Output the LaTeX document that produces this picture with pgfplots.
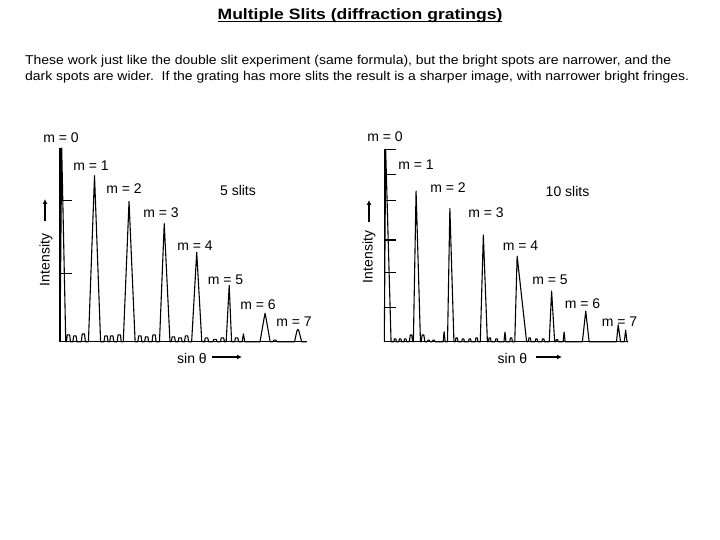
\documentclass[border=0pt]{standalone}
\usepackage{fontspec}
\setmainfont{Liberation Sans}
\usepackage{graphicx}
\usepackage{pgfplots}
\pgfplotsset{compat=1.18}
\usetikzlibrary{arrows.meta}

\newcommand\ul[1]{\setbox0\hbox{#1}\rlap{\rule[-2.4pt]{\wd0}{1.1pt}}\box0}

\pgfplotsset{
  slits/.style={
    anchor=south west, scale only axis,
    xmin=0, ymin=0, ymax=1,
    axis x line*=bottom, axis y line*=left,
    axis line style={line width=1.3pt, black},
    xtick=\empty, yticklabels={},
    tick align=inside, major tick length=12pt,
    tick style={line width=1.3pt, black},
    clip=false,
  },
  peaks/.style={black, line width=1.1pt, line join=round, no markers},
}

\begin{document}
\begin{tikzpicture}
\path[use as bounding box] (0pt,0pt) rectangle (720pt,-540pt);

% title and text
\node[anchor=base, inner sep=0pt] at (360pt,-19.5pt)
  {\scalebox{1.17}[1]{\fontsize{15}{18}\selectfont\bfseries\ul{Multiple Slits (diffraction gratings)}}};
\node[anchor=base west, inner sep=0pt] at (25pt,-65pt)
  {\scalebox{1.09}[1]{\fontsize{12.8}{15}\selectfont These work just like the double slit experiment (same formula), but the bright spots are narrower, and the}};
\node[anchor=base west, inner sep=0pt] at (25pt,-80.5pt)
  {\scalebox{1.09}[1]{\fontsize{12.8}{15}\selectfont dark spots are wider.\ \ If the grating has more slits the result is a sharper image, with narrower bright fringes.}};

% 5 slits
\begin{axis}[slits, at={(60pt,-341.7pt)}, width=246.7pt, height=193.7pt,
  xmax=7.29, ytick={0.353,0.728}]
\addplot[peaks] coordinates {
(0,0)(0.05,1.0)(0.17,0)
(0.19,0)(0.215,0.035)(0.285,0.035)(0.31,0)
(0.38,0)(0.405,0.03)(0.475,0.03)(0.50,0)
(0.63,0)(0.655,0.04)(0.725,0.04)(0.75,0)
(0.84,0)(1.02,0.857)(1.20,0)
(1.30,0)(1.325,0.03)(1.395,0.03)(1.42,0)
(1.47,0)(1.495,0.03)(1.565,0.03)(1.59,0)
(1.69,0)(1.715,0.035)(1.785,0.035)(1.81,0)
(1.87,0)(2.04,0.724)(2.22,0)
(2.30,0)(2.325,0.03)(2.395,0.03)(2.42,0)
(2.50,0)(2.525,0.025)(2.595,0.025)(2.62,0)
(2.72,0)(2.745,0.035)(2.815,0.035)(2.84,0)
(2.94,0)(3.08,0.609)(3.25,0)
(3.29,0)(3.315,0.025)(3.385,0.025)(3.41,0)
(3.49,0)(3.515,0.02)(3.585,0.02)(3.61,0)
(3.68,0)(3.705,0.03)(3.775,0.03)(3.80,0)
(3.89,0)(4.04,0.462)(4.19,0)
(4.27,0)(4.295,0.02)(4.365,0.02)(4.39,0)
(4.52,0)(4.545,0.012)(4.615,0.012)(4.64,0)
(4.74,0)(4.765,0.02)(4.835,0.02)(4.86,0)
(4.91,0)(5.0,0.29)(5.07,0)
(5.16,0)(5.185,0.02)(5.255,0.02)(5.28,0)
(5.38,0)(5.42,0.04)(5.46,0)
(5.91,0)(6.03,0.12)(6.06,0.147)(6.09,0.12)(6.21,0)
(6.29,0)(6.32,0.008)(6.38,0.008)(6.41,0)
(6.93,0)(7.0,0.055)(7.03,0.064)(7.06,0.055)(7.14,0)
(7.29,0)
};
\end{axis}

% 10 slits
\begin{axis}[slits, at={(384.3pt,-341.7pt)}, width=243.7pt, height=192.4pt,
  xmax=7.21, ytick={0.179,0.359,0.529,0.733,0.870,1.0}]
\addplot[peaks] coordinates {
(0,0)(0.04,1.0)(0.2,0)
(0.28,0)(0.30,0.015)(0.34,0.015)(0.36,0)
(0.43,0)(0.45,0.015)(0.49,0.015)(0.51,0)
(0.58,0)(0.60,0.015)(0.64,0.015)(0.66,0)
(0.74,0)(0.77,0.035)(0.81,0.035)(0.84,0)
(0.86,0)(0.94,0.783)(1.07,0)
(1.09,0)(1.12,0.035)(1.17,0.035)(1.20,0)
(1.27,0)(1.29,0.008)(1.33,0.008)(1.35,0)
(1.42,0)(1.44,0.008)(1.48,0.008)(1.50,0)
(1.74,0)(1.77,0.052)(1.80,0)
(1.87,0)(1.94,0.693)(2.06,0)
(2.10,0)(2.12,0.02)(2.16,0.02)(2.18,0)
(2.29,0)(2.31,0.015)(2.35,0.015)(2.37,0)
(2.49,0)(2.51,0.015)(2.55,0.015)(2.57,0)
(2.69,0)(2.71,0.02)(2.75,0.02)(2.77,0)
(2.84,0)(2.93,0.555)(3.05,0)
(3.08,0)(3.10,0.02)(3.14,0.02)(3.16,0)
(3.28,0)(3.30,0.015)(3.34,0.015)(3.36,0)
(3.54,0)(3.57,0.05)(3.60,0)
(3.71,0)(3.73,0.02)(3.77,0.02)(3.79,0)
(3.86,0)(3.93,0.445)(4.21,0)
(4.26,0)(4.28,0.02)(4.32,0.02)(4.34,0)
(4.46,0)(4.48,0.015)(4.52,0.015)(4.54,0)
(4.66,0)(4.68,0.015)(4.72,0.015)(4.74,0)
(4.88,0)(4.95,0.263)(5.04,0)
(5.07,0)(5.09,0.01)(5.13,0.01)(5.15,0)
(5.29,0)(5.32,0.05)(5.35,0)
(5.86,0)(5.96,0.159)(6.06,0)
(6.87,0)(6.92,0.087)(6.99,0)
(7.10,0)(7.14,0.06)(7.18,0)
(7.21,0)
};
\end{axis}

% annotations, 5 slits
\begin{scope}[every node/.style={inner sep=0pt, font=\fontsize{14}{16}\selectfont}]
\node at (61pt,-138pt) {m = 0};
\node at (91pt,-166pt) {m = 1};
\node at (124pt,-188.5pt) {m = 2};
\node at (161pt,-213pt) {m = 3};
\node at (195pt,-246pt) {m = 4};
\node at (225.5pt,-280pt) {m = 5};
\node at (258pt,-305pt) {m = 6};
\node at (294pt,-321.5pt) {m = 7};
\node at (238pt,-190pt) {5 slits};
\node[rotate=90] at (46pt,-260pt) {Intensity};
\node at (192pt,-358pt) {sin θ};
% annotations, 10 slits
\node at (385pt,-137pt) {m = 0};
\node at (416pt,-165pt) {m = 1};
\node at (448pt,-188pt) {m = 2};
\node at (486pt,-213pt) {m = 3};
\node at (520.5pt,-246pt) {m = 4};
\node at (550pt,-280pt) {m = 5};
\node at (582.5pt,-304pt) {m = 6};
\node at (619.5pt,-322pt) {m = 7};
\node at (567.5pt,-191pt) {10 slits};
\node[rotate=90] at (369pt,-257pt) {Intensity};
\node at (512.5pt,-358pt) {sin θ};
\end{scope}
\draw[-{Latex[length=5pt,width=5pt]}, line width=1.2pt] (45pt,-221pt) -- (45pt,-199pt);
\draw[-{Latex[length=5pt,width=5pt]}, line width=1.2pt] (369pt,-222pt) -- (369pt,-200pt);
\draw[-{Latex[length=5pt,width=5pt]}, line width=1.2pt] (212pt,-357pt) -- (242pt,-357pt);
\draw[-{Latex[length=5pt,width=5pt]}, line width=1.2pt] (536pt,-357pt) -- (562pt,-357pt);
\end{tikzpicture}
\end{document}
